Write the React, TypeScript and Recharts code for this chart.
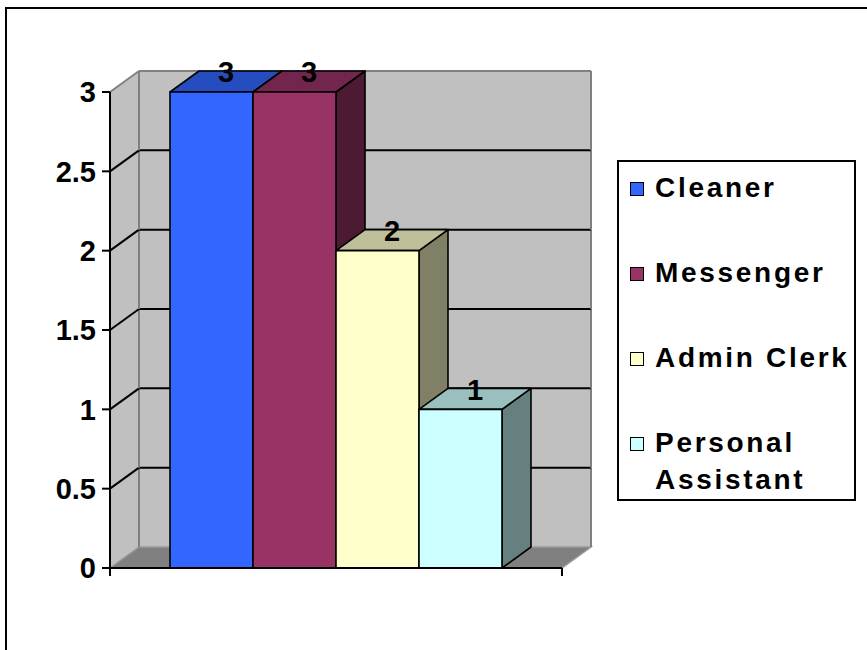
import React from "react";
import {
  BarChart,
  Bar,
  XAxis,
  YAxis,
  ReferenceArea,
  LabelList,
} from "recharts";

const categories = ["Position"];
const seriesNames = ["Cleaner", "Messenger", "Admin Clerk", "Personal Assistant"];
const seriesValues = [3, 3, 2, 1];
const seriesColors = ["#3366FF", "#993366", "#FFFFCC", "#CCFFFF"];
const yTicks = [0, 0.5, 1, 1.5, 2, 2.5, 3];

// 3d depth of the walls and columns
const DX = 29;
const DY = 21;
const FONT = '"Liberation Sans", Arial, sans-serif';
const WALL = "#C0C0C0";
const WALL_EDGE = "#808080";

const data = categories.map((name) => {
  const row: Record<string, string | number> = { name };
  seriesValues.forEach((v, i) => {
    row[`s${i}`] = v;
  });
  return row;
});

const bands = yTicks.slice(0, -1).map((lo, i) => [lo, yTicks[i + 1]]);
const yMax = yTicks[yTicks.length - 1];

function shade(hex: string, f: number): string {
  const n = parseInt(hex.slice(1), 16);
  const r = Math.round(((n >> 16) & 255) * f);
  const g = Math.round(((n >> 8) & 255) * f);
  const b = Math.round((n & 255) * f);
  return `rgb(${r},${g},${b})`;
}

function WallBand(props: any) {
  const { x, y, width, height, lo } = props;
  if (x == null) return null;
  return (
    <g>
      {/* back wall slice */}
      <rect x={x + DX} y={y - DY} width={width} height={height} fill={WALL} />
      {/* left side wall slice */}
      <polygon
        points={`${x},${y + height} ${x},${y} ${x + DX},${y - DY} ${x + DX},${y + height - DY}`}
        fill={WALL}
      />
      {lo === 0 && (
        <g>
          <polygon
            points={`${x},${y + height} ${x + DX},${y + height - DY} ${x + width + DX},${y + height - DY} ${x + width},${y + height}`}
            fill="#808080"
            stroke="#999"
            strokeWidth={1.5}
          />
          <line x1={x} y1={y + height} x2={x} y2={y + height + 8} stroke="#000" strokeWidth={2} />
          <line x1={x + width} y1={y + height} x2={x + width} y2={y + height + 8} stroke="#000" strokeWidth={2} />
        </g>
      )}
    </g>
  );
}

function GridBand(props: any) {
  const { x, y, width, height, hi } = props;
  if (x == null) return null;
  const top = hi === yMax;
  const c = top ? WALL_EDGE : "#000";
  return (
    <g>
      <line x1={x + DX} y1={y - DY} x2={x + DX} y2={y + height - DY} stroke={WALL_EDGE} strokeWidth={2} />
      <line x1={x + width + DX} y1={y - DY} x2={x + width + DX} y2={y + height - DY} stroke={WALL_EDGE} strokeWidth={2} />
      <line x1={x + DX} y1={y - DY} x2={x + width + DX} y2={y - DY} stroke={c} strokeWidth={2} />
      <line x1={x} y1={y} x2={x + DX} y2={y - DY} stroke={c} strokeWidth={2} />
    </g>
  );
}

function Column3D(props: any) {
  const { x, y, width, height, color } = props;
  if (x == null || height <= 0) return null;
  return (
    <g stroke="#000" strokeWidth={1.6} strokeLinejoin="round">
      <polygon
        points={`${x + width},${y} ${x + width + DX},${y - DY} ${x + width + DX},${y + height - DY} ${x + width},${y + height}`}
        fill={shade(color, 0.5)}
      />
      <polygon
        points={`${x},${y} ${x + DX},${y - DY} ${x + width + DX},${y - DY} ${x + width},${y}`}
        fill={shade(color, 0.75)}
      />
      <rect x={x} y={y} width={width} height={height} fill={color} />
    </g>
  );
}

function TopLabel(props: any) {
  const vb = props.viewBox || {};
  const x = props.x ?? vb.x;
  const y = props.y ?? vb.y;
  const width = props.width ?? vb.width;
  if (x == null) return null;
  return (
    <text
      x={x + width / 2 + DX / 2}
      y={y - DY + 1}
      dy="0.355em"
      textAnchor="middle"
      fontFamily={FONT}
      fontWeight="bold"
      fontSize={29}
      fill="#000"
    >
      {props.value}
    </text>
  );
}

function LegendBox() {
  return (
    <div
      style={{
        position: "absolute",
        left: 617,
        top: 160,
        width: 235,
        height: 330,
        border: "2px solid #000",
        background: "#fff",
        fontFamily: FONT,
        fontWeight: "bold",
        fontSize: 28,
        letterSpacing: 2.7,
        paddingTop: 7,
        boxSizing: "content-box",
      }}
    >
      {seriesNames.map((name, i) => (
        <div key={name} style={{ display: "flex", alignItems: "flex-start", marginBottom: 48 }}>
          <div
            style={{
              width: 12,
              height: 12,
              border: "1.5px solid #000",
              background: seriesColors[i],
              marginLeft: 11,
              marginTop: 13,
              marginRight: 11,
              flex: "none",
            }}
          />
          <div style={{ width: 200, lineHeight: "37px" }}>{name}</div>
        </div>
      ))}
    </div>
  );
}

export default function App() {
  return (
    <div
      style={{
        position: "absolute",
        left: 0,
        top: 0,
        width: 867,
        height: 650,
        overflow: "hidden",
        background: "#fff",
      }}
    >
      <div
        style={{
          position: "absolute",
          left: 5,
          top: 7,
          width: 1000,
          height: 1000,
          border: "2px solid #000",
        }}
      />
      <div style={{ position: "absolute", left: 0, top: 0 }}>
        <BarChart
          width={867}
          height={650}
          data={data}
          margin={{ top: 92, right: 305, bottom: 72, left: 10 }}
          barCategoryGap={60}
          barGap={0}
        >
          {bands.map(([lo, hi]) => (
            <ReferenceArea
              key={`w${lo}`}
              y1={lo}
              y2={hi}
              ifOverflow="visible"
              zIndex={-20}
              shape={(p: any) => <WallBand {...p} lo={lo} hi={hi} />}
            />
          ))}
          {bands.map(([lo, hi]) => (
            <ReferenceArea
              key={`g${lo}`}
              y1={lo}
              y2={hi}
              ifOverflow="visible"
              zIndex={-10}
              shape={(p: any) => <GridBand {...p} lo={lo} hi={hi} />}
            />
          ))}
          <XAxis
            dataKey="name"
            height={10}
            tick={false}
            tickLine={false}
            axisLine={{ stroke: "#000", strokeWidth: 2 }}
          />
          <YAxis
            width={100}
            domain={[0, yMax]}
            ticks={yTicks}
            interval={0}
            tickSize={8}
            tickMargin={6}
            tickFormatter={(v: number) => String(v)}
            tick={{ fontFamily: FONT, fontWeight: "bold", fontSize: 29, fill: "#000" }}
            tickLine={{ stroke: "#000", strokeWidth: 2 }}
            axisLine={{ stroke: "#000", strokeWidth: 2 }}
          />
          {seriesNames.map((name, i) => (
            <Bar
              key={name}
              dataKey={`s${i}`}
              name={name}
              fill={seriesColors[i]}
              isAnimationActive={false}
              shape={(p: any) => <Column3D {...p} color={seriesColors[i]} />}
            >
              <LabelList dataKey={`s${i}`} content={TopLabel} />
            </Bar>
          ))}
        </BarChart>
      </div>
      <LegendBox />
    </div>
  );
}
